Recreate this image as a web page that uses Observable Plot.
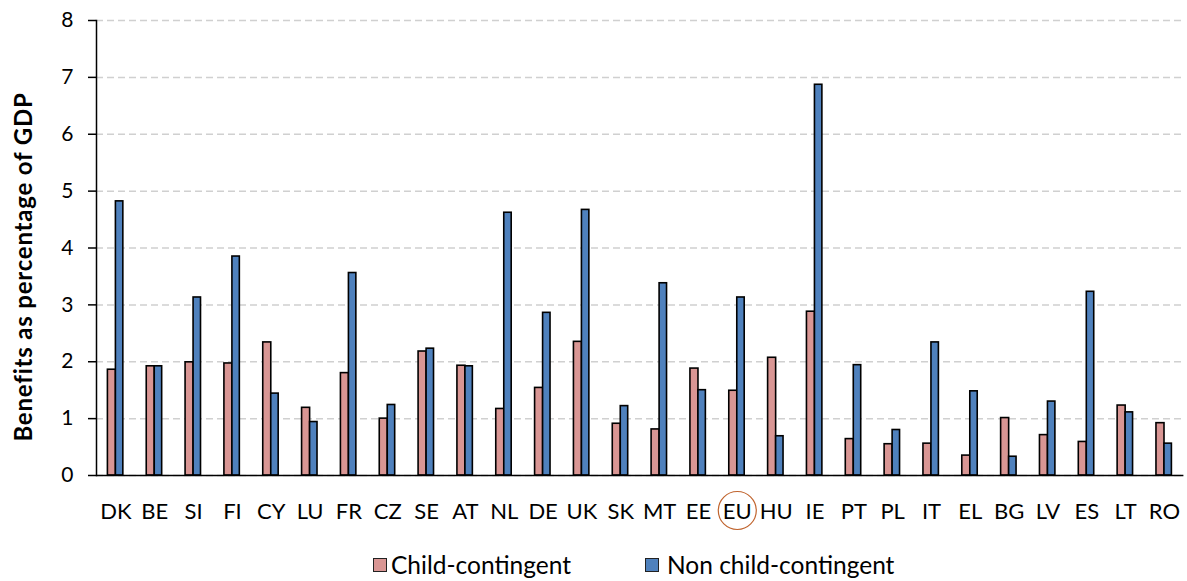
<!DOCTYPE html>
<html>
<head>
<meta charset="utf-8">
<script src="https://cdn.jsdelivr.net/npm/d3@7"></script>
<script src="https://cdn.jsdelivr.net/npm/@observablehq/plot@0.6"></script>
<style>
  html, body { margin: 0; padding: 0; background: #fff; }
  body { width: 1187px; height: 581px; overflow: hidden; font-family: Lato, "Open Sans", sans-serif; position: relative; }
  #chart { height: 540px; }
  #legend { position: relative; height: 41px; font-size: 24.5px; color: #000; }
  .item { position: absolute; top: 10px; height: 30px; line-height: 30px; }
  .sw { position: absolute; top: 8px; left: 0; width: 12px; height: 12px; border: 1px solid #222; }
  .lbl { position: absolute; top: 0; white-space: nowrap; }
</style>
</head>
<body>
<div id="chart"></div>
<div id="legend"></div>
<script>
const countries = ["DK","BE","SI","FI","CY","LU","FR","CZ","SE","AT","NL","DE","UK","SK","MT","EE","EU","HU","IE","PT","PL","IT","EL","BG","LV","ES","LT","RO"];
const childContingent = [1.86,1.92,1.99,1.97,2.34,1.19,1.80,1.00,2.18,1.93,1.17,1.54,2.35,0.91,0.81,1.88,1.49,2.07,2.88,0.64,0.55,0.56,0.35,1.01,0.71,0.59,1.23,0.92];
const nonChildContingent = [4.82,1.92,3.13,3.85,1.44,0.94,3.56,1.24,2.23,1.92,4.62,2.86,4.67,1.22,3.38,1.50,3.13,0.69,6.87,1.94,0.80,2.34,1.48,0.33,1.30,3.23,1.11,0.56];
const seriesNames = ["Child-contingent", "Non child-contingent"];
const seriesColors = ["#d99694", "#4f81bd"];
const yTicks = [0,1,2,3,4,5,6,7,8];
const yTitle = "Benefits as percentage of GDP";
const highlighted = ["EU"];

const childData = countries.map((c, i) => ({country: c, value: childContingent[i]}));
const nonChildData = countries.map((c, i) => ({country: c, value: nonChildContingent[i]}));

const plot = Plot.plot({
  width: 1187,
  height: 540,
  marginLeft: 96,
  marginRight: 3.6,
  marginTop: 20,
  marginBottom: 65,
  style: {fontFamily: "Lato, 'Open Sans', sans-serif", color: "#000", background: "#fff"},
  x: {domain: countries, padding: 0, round: false},
  y: {domain: [0, 8]},
  marks: [
    Plot.gridY(yTicks, {stroke: "#d0d0d0", strokeOpacity: 1, strokeWidth: 1.5, strokeDasharray: "7,4"}),
    Plot.barY(childData, {x: "country", y: "value", fill: seriesColors[0], stroke: "#000", strokeWidth: 1.6, insetLeft: 11.4, insetRight: 19.4}),
    Plot.barY(nonChildData, {x: "country", y: "value", fill: seriesColors[1], stroke: "#000", strokeWidth: 1.6, insetLeft: 19.4, insetRight: 12}),
    Plot.ruleY([0], {stroke: "#000", strokeWidth: 1.5}),
    Plot.frame({anchor: "left", stroke: "#000", strokeWidth: 1.5}),
    Plot.axisY(yTicks, {tickSize: 8, tickPadding: 15, fontSize: 21, tickFormat: d3.format("d"), label: null, stroke: "#000", strokeWidth: 1.5}),
    Plot.axisX({tickSize: 0, tickPadding: 28, fontSize: 22, label: null}),
    Plot.text([yTitle], {frameAnchor: "left", textAnchor: "middle", rotate: -90, dx: -72.5, dy: 19, fontSize: 24, fontWeight: "bold", fill: "#000"}),
    Plot.dot(highlighted, {x: d => d, frameAnchor: "bottom", dy: 35, r: 19, stroke: "#c0642e", strokeWidth: 1.2, fill: "none"})
  ]
});
d3.select(plot).selectAll('g[aria-label="text"] text').style("letter-spacing", "0.8px");
document.getElementById("chart").appendChild(plot);

const legend = document.getElementById("legend");
const swatchLefts = [373, 645];
const labelLefts = [391, 667];
seriesNames.forEach((name, i) => {
  const sw = document.createElement("div");
  sw.className = "sw";
  sw.style.background = seriesColors[i];
  sw.style.left = swatchLefts[i] + "px";
  sw.style.top = "18px";
  const label = document.createElement("div");
  label.className = "lbl";
  label.textContent = name;
  label.style.left = labelLefts[i] + "px";
  label.style.top = "10px";
  label.style.lineHeight = "30px";
  legend.appendChild(sw);
  legend.appendChild(label);
});
</script>
</body>
</html>
